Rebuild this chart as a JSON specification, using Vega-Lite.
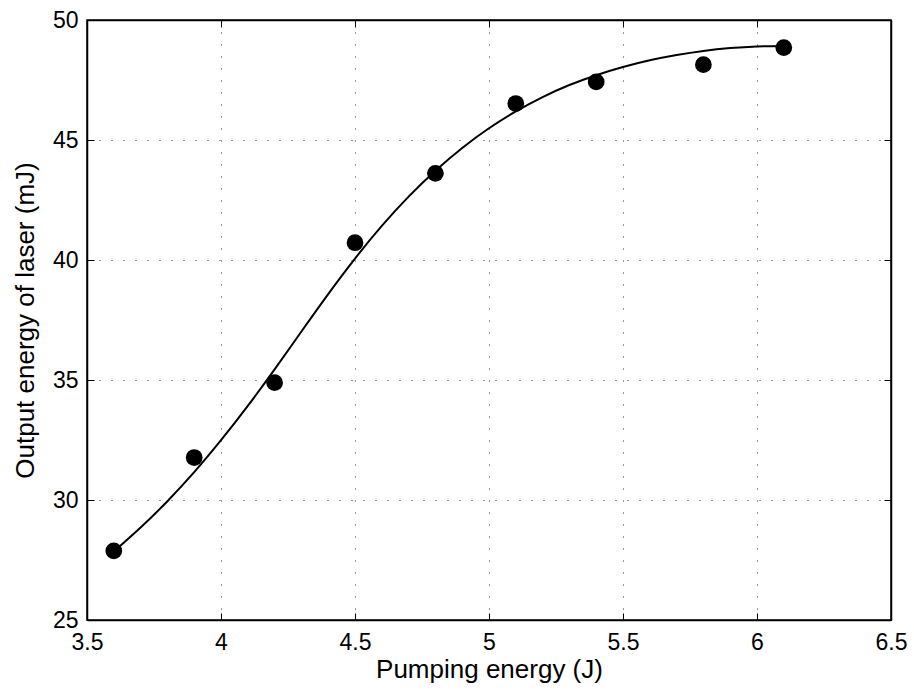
{
  "$schema": "https://vega.github.io/schema/vega-lite/v6.json",
  "width": 804,
  "height": 600,
  "autosize": {"type": "none"},
  "padding": {"left": 87, "top": 20, "right": 23, "bottom": 70},
  "background": "white",
  "config": {
    "font": "Liberation Sans",
    "view": {"stroke": "black", "strokeWidth": 1.5},
    "axis": {
      "labelFont": "Liberation Sans",
      "titleFont": "Liberation Sans",
      "labelFontSize": 23,
      "titleFontSize": 26,
      "titleFontWeight": "normal",
      "labelColor": "black",
      "titleColor": "black",
      "domainColor": "black",
      "domainWidth": 1.5,
      "tickColor": "black",
      "tickWidth": 1,
      "tickSize": -7,
      "gridColor": "black",
      "gridOpacity": 0.8,
      "gridDash": [1, 11],
      "gridWidth": 1
    }
  },
  "datasets": {
    "pts": [
      {"E": 3.6, "O": 27.88},
      {"E": 3.9, "O": 31.77},
      {"E": 4.2, "O": 34.89},
      {"E": 4.5, "O": 40.72},
      {"E": 4.8, "O": 43.61},
      {"E": 5.1, "O": 46.52},
      {"E": 5.4, "O": 47.42},
      {"E": 5.8, "O": 48.14},
      {"E": 6.1, "O": 48.85}
    ],
    "fit": [
      {"E": 3.6, "O": 27.85},
      {"E": 3.7, "O": 28.85},
      {"E": 3.8, "O": 29.95},
      {"E": 3.9, "O": 31.16},
      {"E": 4.0, "O": 32.49},
      {"E": 4.1, "O": 33.92},
      {"E": 4.2, "O": 35.44},
      {"E": 4.3, "O": 37.02},
      {"E": 4.4, "O": 38.58},
      {"E": 4.5, "O": 40.06},
      {"E": 4.6, "O": 41.42},
      {"E": 4.7, "O": 42.64},
      {"E": 4.8, "O": 43.72},
      {"E": 4.9, "O": 44.67},
      {"E": 5.0, "O": 45.49},
      {"E": 5.1, "O": 46.19},
      {"E": 5.2, "O": 46.79},
      {"E": 5.3, "O": 47.29},
      {"E": 5.4, "O": 47.7},
      {"E": 5.5, "O": 48.04},
      {"E": 5.6, "O": 48.32},
      {"E": 5.7, "O": 48.54},
      {"E": 5.8, "O": 48.71},
      {"E": 5.9, "O": 48.83},
      {"E": 6.0, "O": 48.9},
      {"E": 6.1, "O": 48.92}
    ]
  },
  "layer": [
    {
      "data": {"name": "fit"},
      "mark": {"type": "line", "color": "black", "strokeWidth": 2, "interpolate": "natural"},
      "encoding": {
        "x": {
          "field": "E", "type": "quantitative",
          "scale": {"domain": [3.5, 6.5], "nice": false, "zero": false},
          "axis": {"orient": "bottom", "title": "Pumping energy (J)", "values": [3.5, 4, 4.5, 5, 5.5, 6, 6.5], "format": "~g", "labelPadding": 18, "titlePadding": 2, "grid": true, "labelFlush": false, "labelOverlap": false}
        },
        "y": {
          "field": "O", "type": "quantitative",
          "scale": {"domain": [25, 50], "nice": false, "zero": false},
          "axis": {"orient": "left", "title": "Output energy of laser (mJ)", "values": [25, 30, 35, 40, 45, 50], "format": "~g", "labelPadding": 16, "titlePadding": 14, "grid": true, "labelFlush": false, "labelOverlap": false}
        }
      }
    },
    {
      "data": {"name": "pts"},
      "mark": {"type": "circle", "color": "black", "opacity": 1, "size": 280},
      "encoding": {
        "x": {
          "field": "E", "type": "quantitative",
          "axis": {"orient": "top", "title": null, "labels": false, "grid": false, "values": [3.5, 4, 4.5, 5, 5.5, 6, 6.5]}
        },
        "y": {
          "field": "O", "type": "quantitative",
          "axis": {"orient": "right", "title": null, "labels": false, "grid": false, "values": [25, 30, 35, 40, 45, 50]}
        }
      }
    }
  ]
}
